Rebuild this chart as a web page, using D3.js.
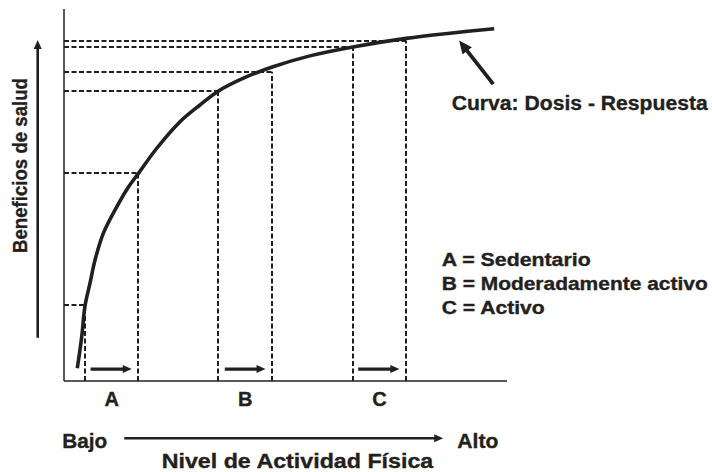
<!DOCTYPE html>
<meta charset="utf-8">
<script src="https://d3js.org/d3.v7.min.js"></script>
<style>
  body { margin: 0; background: #fff; }
  text { font-family: "Liberation Sans", Arial, sans-serif; font-weight: bold; fill: #231f20; stroke: #231f20; stroke-width: 0.35px; }
</style>
<div id="my_dataviz"></div>
<script>

// curve: dosis - respuesta (activity level 0-100, health benefit 0-100)
var activity = [3.0, 4.0, 4.74, 5.87, 7.0, 8.87, 11.9, 14.4, 16.8, 20.9, 26.2, 30.7, 34.8, 40.5, 47.0, 55.5, 65.2, 77.2, 87.1, 97.1];
var benefit  = [3.4, 11.9, 20.2, 26.3, 32.5, 39.7, 46.8, 51.9, 55.8, 62.5, 69.7, 74.2, 77.9, 81.4, 84.4, 87.4, 89.8, 92.1, 93.5, 94.7];

// the three groups, with the range of activity and the benefit read at each end
var groups     = ["A", "B", "C"];
var groupStart = [4.7, 34.8, 65.2];
var groupEnd   = [16.8, 47.0, 77.2];
var benefitLow  = [20.3, 78.0, 89.9];
var benefitHigh = [55.8, 83.1, 91.5];

// little arrows inside each range
var arrowFrom = [6.0, 36.3, 66.4];
var arrowTo   = [15.3, 45.5, 75.7];
var arrowLevel = 3.2;

var legendLabels = ["A = Sedentario", "B = Moderadamente activo", "C = Activo"];

var W = 712, H = 472;
var ink = "#231f20";

var svg = d3.select("#my_dataviz")
  .append("svg")
    .attr("width", W)
    .attr("height", H);

var x = d3.scaleLinear().domain([0, 100]).range([64, 507]);
var y = d3.scaleLinear().domain([0, 100]).range([381, 9]);

// helper: straight arrow with a filled head
function arrow(x1, y1, x2, y2, len, half, w) {
  var a = Math.atan2(y2 - y1, x2 - x1);
  var bx = x2 - len * Math.cos(a), by = y2 - len * Math.sin(a);
  svg.append("line")
    .attr("x1", x1).attr("y1", y1)
    .attr("x2", bx + Math.cos(a)).attr("y2", by + Math.sin(a))
    .attr("stroke", ink).attr("stroke-width", w);
  var px = -Math.sin(a) * half, py = Math.cos(a) * half;
  svg.append("path")
    .attr("d", "M" + x2 + "," + y2 + "L" + (bx + px) + "," + (by + py) + "L" + (bx - px) + "," + (by - py) + "Z")
    .attr("fill", ink);
}

/***************************************
Guides (dashed)
****************************************/
var guides = [];
groups.forEach(function(g, i) {
  guides.push({ a: groupStart[i], b: benefitLow[i] });
  guides.push({ a: groupEnd[i], b: benefitHigh[i] });
});

svg.append("g").selectAll("line.v")
  .data(guides)
  .enter()
  .append("line")
    .attr("x1", function(d) { return Math.round(x(d.a)); })
    .attr("x2", function(d) { return Math.round(x(d.a)); })
    .attr("y1", y(0))
    .attr("y2", function(d) { return y(d.b); })
    .attr("stroke", ink)
    .attr("stroke-width", 2)
    .attr("stroke-dasharray", "5,2.5");

svg.append("g").selectAll("line.h")
  .data(guides)
  .enter()
  .append("line")
    .attr("x1", x(0))
    .attr("x2", function(d) { return x(d.a); })
    .attr("y1", function(d) { return Math.round(y(d.b)); })
    .attr("y2", function(d) { return Math.round(y(d.b)); })
    .attr("stroke", ink)
    .attr("stroke-width", 2)
    .attr("stroke-dasharray", "5,2.5");

/***************************************
Axes
****************************************/
svg.append("line")
  .attr("x1", x(0)).attr("x2", x(0))
  .attr("y1", y(100)).attr("y2", y(0))
  .attr("stroke", ink).attr("stroke-width", 1.5);
svg.append("line")
  .attr("x1", x(0)).attr("x2", x(100))
  .attr("y1", y(0)).attr("y2", y(0))
  .attr("stroke", ink).attr("stroke-width", 1.5);

/***************************************
Dose-response curve
****************************************/
var pts = activity.map(function(a, i) { return [a, benefit[i]]; });
svg.append("path")
  .datum(pts)
  .attr("fill", "none")
  .attr("stroke", ink)
  .attr("stroke-width", 3.6)
  .attr("d", d3.line()
    .x(function(d) { return x(d[0]); })
    .y(function(d) { return y(d[1]); })
    .curve(d3.curveCatmullRom.alpha(0.5)));

// arrows inside each group range
groups.forEach(function(g, i) {
  arrow(x(arrowFrom[i]), y(arrowLevel), x(arrowTo[i]), y(arrowLevel), 9, 4, 3.2);
});

// group letters below the axis
svg.selectAll("text.group")
  .data(groups)
  .enter()
  .append("text")
    .attr("x", function(d, i) { return x((groupStart[i] + groupEnd[i]) / 2); })
    .attr("y", 405.5)
    .attr("text-anchor", "middle")
    .style("font-size", "20px")
    .text(function(d) { return d; });

/***************************************
Labels and annotations
****************************************/
// y label + arrow
arrow(37.7, y(11.6), 37.7, y(91.7), 9, 4, 2.6);
svg.append("text")
  .attr("transform", "translate(26.5,165.5) rotate(-90)")
  .attr("text-anchor", "middle")
  .attr("textLength", 175)
  .attr("lengthAdjust", "spacingAndGlyphs")
  .style("font-size", "21px")
  .text("Beneficios de salud");

// x label + arrow
arrow(x(13.6), 438.3, x(85.6), 438.3, 9, 4, 2.6);
svg.append("text")
  .attr("x", 62.3).attr("y", 447.5)
  .attr("textLength", 45).attr("lengthAdjust", "spacingAndGlyphs")
  .style("font-size", "20px")
  .text("Bajo");
svg.append("text")
  .attr("x", 457.3).attr("y", 447.5)
  .attr("textLength", 41).attr("lengthAdjust", "spacingAndGlyphs")
  .style("font-size", "20px")
  .text("Alto");
svg.append("text")
  .attr("x", 161.7).attr("y", 467.5)
  .attr("textLength", 271.6).attr("lengthAdjust", "spacingAndGlyphs")
  .style("font-size", "20px")
  .text("Nivel de Actividad Física");

// callout for the curve
arrow(x(96.9), y(79.8), x(89.2), y(91.5), 13, 6, 3.8);
svg.append("text")
  .attr("x", 451.7).attr("y", 110)
  .attr("textLength", 256).attr("lengthAdjust", "spacingAndGlyphs")
  .style("font-size", "20px")
  .text("Curva: Dosis - Respuesta");

// legend
var legendWidth = [149, 266, 103];
svg.selectAll("text.legend")
  .data(legendLabels)
  .enter()
  .append("text")
    .attr("x", 441.7)
    .attr("y", function(d, i) { return 265.5 + i * 24.2; })
    .attr("textLength", function(d, i) { return legendWidth[i]; })
    .attr("lengthAdjust", "spacingAndGlyphs")
    .style("font-size", "18px")
    .text(function(d) { return d; });

</script>
